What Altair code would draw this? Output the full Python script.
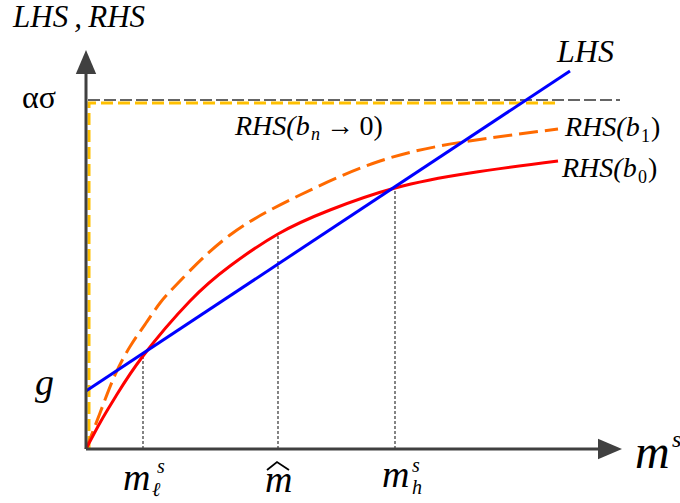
import altair as alt
import pandas as pd

# ---- data (chart units: origin at the axes' corner) ----
lhs_x = [0, 484]
lhs_y = [58, 378]

rhs0_x = [0, 15, 30, 57, 104, 144, 192, 244, 309, 384, 472]
rhs0_y = [0, 28, 53, 93, 148, 183, 215, 239, 261, 276, 288]

rhs1_x = [0, 14, 29, 45, 60, 74, 94, 144, 214, 294, 377, 472]
rhs1_y = [0, 36, 74, 104, 126, 146, 168, 214, 254, 288, 307, 320]

rhsn_x = [469, 3, 3]
rhsn_y = [346, 346, 0]

alpha_sigma = 349      # level of the dashed black ceiling
ceil_x = [2, 534]

drop_x = [57, 192, 309]      # m_l^s, m-hat, m_h^s
drop_top = [93, 215, 261]

X_MIN, X_MAX = -86, 594
Y_MIN, Y_MAX = -54, 449
x_axis_end = 512
y_axis_end = 376
x_arrow = 524
y_arrow = 387

italic_labels = [
    ("LHS\u2009,\u2009RHS", -73, 422, 31),
    ("g", -51, 54, 38),
    ("LHS", 471, 387, 32),
    ("RHS(b", 479, 313, 28),
    ("RHS(b", 476, 272, 28),
    ("RHS(b", 149, 314, 28),
    ("n", 225, 309, 18),
    ("m", 549, -19, 48),
    ("s", 586, 2, 24),
    ("m", 37, -41, 38),
    ("s", 71, -24, 20),
    ("\u2113", 66, -47, 20),
    ("m", 179, -43, 38),
    ("m", 296, -38, 38),
    ("s", 326, -23, 20),
    ("h", 326, -45, 20),
]
upright_labels = [
    ("\u03b1\u03c3", -64, 341, 32),
    ("1", 555, 307, 18),
    (")", 565, 313, 28),
    ("0", 552, 266, 18),
    (")", 562, 272, 28),
    ("\u2192\u20090)", 240, 314, 28),
]
hat_x = [181, 191, 203]
hat_y = [-21, -13, -21]

FONT = "Liberation Serif"

# ---- helpers ----
xs = alt.Scale(domain=[X_MIN, X_MAX], nice=False, zero=False)
ys = alt.Scale(domain=[Y_MIN, Y_MAX], nice=False, zero=False)


def enc_xy(xf="x", yf="y"):
    return dict(x=alt.X(f"{xf}:Q", scale=xs, axis=None),
                y=alt.Y(f"{yf}:Q", scale=ys, axis=None))


def path(xv, yv, **mk):
    df = pd.DataFrame({"x": xv, "y": yv, "o": range(len(xv))})
    return alt.Chart(df).mark_line(**mk).encode(order="o:Q", **enc_xy())


AX = "#404040"

axes = alt.Chart(pd.DataFrame({
    "x": [0, 0], "y": [0, 0], "x2": [x_axis_end, 0], "y2": [0, y_axis_end]
})).mark_rule(color=AX, strokeWidth=3).encode(
    x=alt.X("x:Q", scale=xs, axis=None), y=alt.Y("y:Q", scale=ys, axis=None),
    x2="x2:Q", y2="y2:Q")

arrow_shape = "M 1 0 L -1 -0.85 L -1 0.85 Z"
arrows = alt.Chart(pd.DataFrame({
    "x": [x_arrow, 0], "y": [0, y_arrow], "a": [0, 270]
})).mark_point(shape=arrow_shape, filled=True, color=AX, opacity=1,
               size=576, strokeWidth=0).encode(
    angle=alt.Angle("a:Q", scale=None), **enc_xy())

drops = alt.Chart(pd.DataFrame({
    "x": drop_x, "y": [0] * 3, "y2": drop_top
})).mark_rule(color="#333333", strokeWidth=1.2, strokeDash=[3, 2]).encode(
    x=alt.X("x:Q", scale=xs, axis=None), y=alt.Y("y:Q", scale=ys, axis=None),
    y2="y2:Q")

ceiling = path(ceil_x, [alpha_sigma] * 2, color="#333333", strokeWidth=1.6,
               strokeDash=[12, 4])
yellow = path(rhsn_x, rhsn_y, color="#FFC000", strokeWidth=3,
              strokeDash=[12, 5], strokeCap="butt")
orange = path(rhs1_x, rhs1_y, color="#FF6A00", strokeWidth=3,
              strokeDash=[19, 7], interpolate="natural")
red = path(rhs0_x, rhs0_y, color="#FF0000", strokeWidth=3,
           interpolate="natural")
blue = path(lhs_x, lhs_y, color="#0000FF", strokeWidth=3)
hat = path(hat_x, hat_y, color="#000000", strokeWidth=1.8)


def labels(rows, style):
    df = pd.DataFrame(rows, columns=["t", "x", "y", "s"])
    layers = []
    for s, grp in df.groupby("s"):
        mk = dict(align="left", baseline="alphabetic", font=FONT,
                  color="#000000", fontSize=float(s))
        if style == "italic":
            mk["fontStyle"] = "italic"
        layers.append(alt.Chart(grp).mark_text(**mk).encode(
            text="t:N", **enc_xy()))
    return layers


chart = alt.layer(
    yellow, ceiling, drops, orange, red, blue, axes, arrows, hat,
    *labels(italic_labels, "italic"), *labels(upright_labels, "normal"),
).properties(
    width=680, height=503,
    autosize=alt.AutoSizeParams(type="none"), padding=0,
).configure_view(stroke=None)

chart.save("out.html", embed_options={"renderer": "svg", "actions": False})
